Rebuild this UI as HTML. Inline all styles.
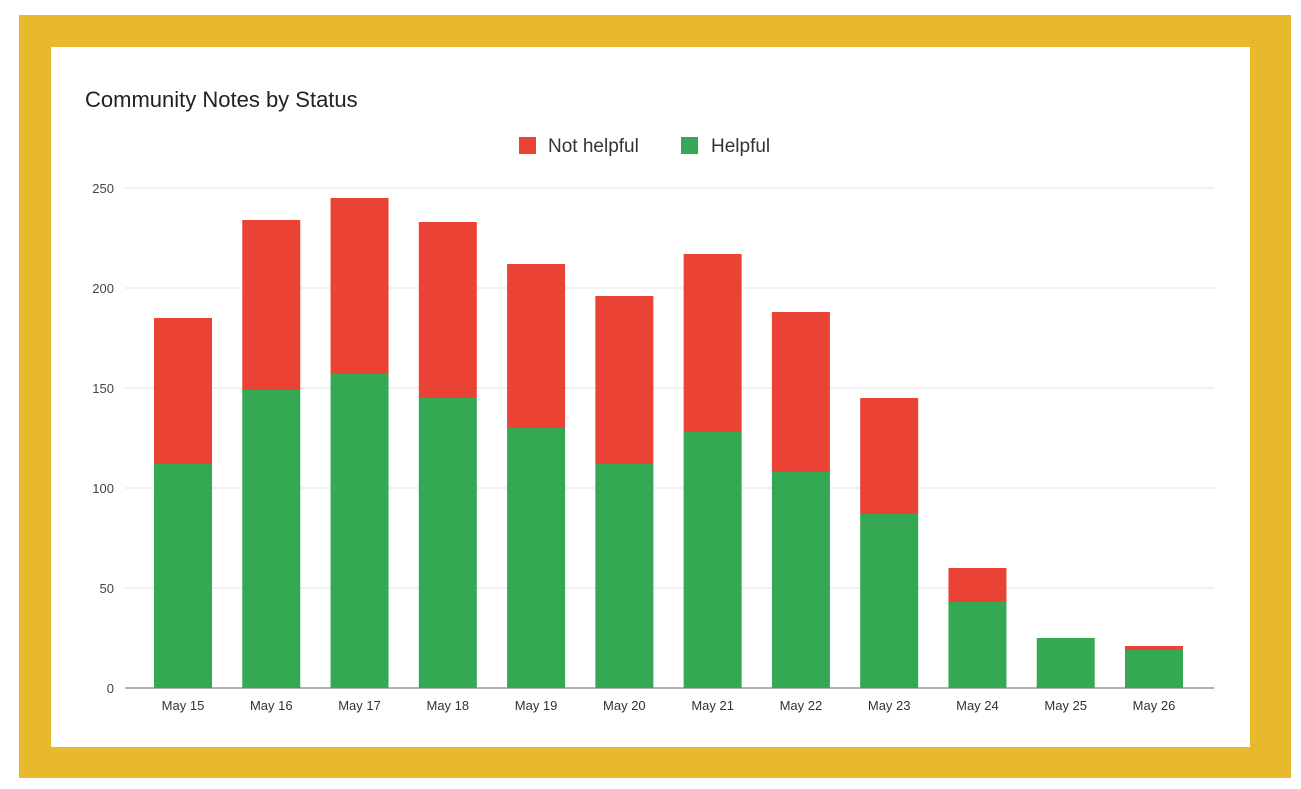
<!DOCTYPE html>
<html><head><meta charset="utf-8"><style>
html,body{margin:0;padding:0;background:#fff;}
body{width:1301px;height:789px;position:relative;overflow:hidden;font-family:"Liberation Sans",Arial,sans-serif;}
#frame{position:absolute;left:19px;top:15px;width:1272px;height:763px;background:#e9b92d;}
#card{position:absolute;left:51px;top:47px;width:1199px;height:700px;background:#fff;}
</style></head><body>
<div id="frame"></div>
<div id="card"></div>
<svg id="chart" width="1301" height="789" style="position:absolute;left:0;top:0">
<text x="85" y="107" font-size="22" fill="#222">Community Notes by Status</text>
<g>
<rect x="519" y="137" width="17" height="17" fill="#ea4335"/>
<text x="548" y="152" font-size="19" fill="#333">Not helpful</text>
<rect x="681" y="137" width="17" height="17" fill="#34a853"/>
<text x="711" y="152" font-size="19" fill="#333">Helpful</text>
</g>
<g id="grid"></g><g id="bars"></g><g id="labels"></g>
</svg>
<script>
const categories=["May 15","May 16","May 17","May 18","May 19","May 20","May 21","May 22","May 23","May 24","May 25","May 26"];
const helpful=[112,149,157,145,130,112,128,108,87,43,25,19];
const notHelpful=[73,85,88,88,82,84,89,80,58,17,0,2];
const yTicks=[0,50,100,150,200,250];
const NS="http://www.w3.org/2000/svg";
const x0=125,x1=1214,yZero=688,pxPerUnit=2;
const firstCenter=183,lastCenter=1154,bw=58;
const step=(lastCenter-firstCenter)/(categories.length-1);
function y(v){return yZero-v*pxPerUnit;}
function xc(i){return firstCenter+step*i;}
function mk(tag,attrs,parent){const e=document.createElementNS(NS,tag);for(const k in attrs)e.setAttribute(k,attrs[k]);parent.appendChild(e);return e;}
const grid=document.getElementById('grid'),bars=document.getElementById('bars'),labels=document.getElementById('labels');
yTicks.forEach(t=>{
  const l=mk('line',{x1:x0,x2:x1,y1:y(t),y2:y(t),stroke:t===0?'#999':'#e3e3e3','stroke-width':t===0?1.5:1},grid);
  
  
  const tx=mk('text',{x:114,y:y(t)+5,'text-anchor':'end','font-size':13,fill:'#444'},labels);
  tx.textContent=t;
  
  
});
categories.forEach((c,i)=>{
  const g=mk('rect',{x:xc(i)-bw/2,y:y(helpful[i]),width:bw,height:helpful[i]*pxPerUnit,fill:'#34a853'},bars);
  
  
  const r=mk('rect',{x:xc(i)-bw/2,y:y(helpful[i]+notHelpful[i]),width:bw,height:notHelpful[i]*pxPerUnit,fill:'#ea4335'},bars);
  
  
  const tx=mk('text',{x:xc(i),y:710,'text-anchor':'middle','font-size':13,fill:'#333'},labels);
  tx.textContent=c;
  
  
});
</script>
</body></html>
